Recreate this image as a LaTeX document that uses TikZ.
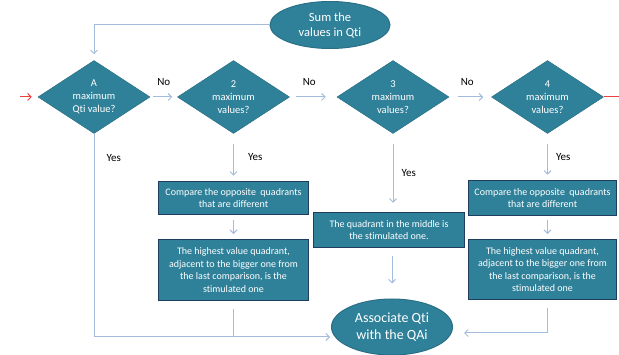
\documentclass[tikz,border=0pt]{standalone}
\usepackage{fontspec}
\setmainfont{Carlito}[Ligatures=NoCommon]
\usetikzlibrary{arrows.meta, positioning, shapes.geometric}
\definecolor{boxfill}{HTML}{2F8199}
\definecolor{boxedge}{HTML}{1F3D5C}
\definecolor{ovaledge}{HTML}{2B6F86}
\definecolor{flowline}{HTML}{A3BCDC}
\definecolor{startred}{HTML}{E8413E}

\begin{document}
\begin{tikzpicture}[
        x=1pt, y=-1pt,
        decision/.style={diamond, fill=boxfill, draw=boxfill!85!black, line width=0.5pt,
                    aspect=1.55, inner sep=0pt, minimum width=112pt, minimum height=73pt,
                    align=center, text=white, font=\fontsize{10.5}{13}\selectfont},
        terminal/.style={ellipse, fill=boxfill, draw=ovaledge, line width=1pt, inner sep=0pt,
                    align=center, text=white},
        box/.style={rectangle, fill=boxfill, draw=boxedge, line width=1.3pt, inner sep=2pt,
                    minimum width=150pt, align=center, text=white,
                    font=\fontsize{10}{12.5}\selectfont},
        lbl/.style={inner sep=0pt, text=black, font=\fontsize{11}{13}\selectfont},
        flow/.style={draw=flowline, line width=1pt},
        line/.style={flow, -{Straight Barb[length=3.5pt, width=7pt]}},
        redline/.style={draw=startred, line width=1pt}
    ]
    \useasboundingbox (0,0) rectangle (619,355);
    % top oval and the row of decisions
    \node [terminal, minimum width=120pt, minimum height=47pt,
           font=\fontsize{12.5}{15}\selectfont] (sum) at (330,25) {Sum the\\values in Qti};
    \node [decision] (d1) at (94,97) {A\\maximum\\Qti value?};
    \node [decision, right=27pt of d1] (d2) {2\\maximum\\values?};
    \node [decision, right=47pt of d2] (d3) {3\\maximum\\values?};
    \node [decision, right=42pt of d3] (d4) {4\\maximum\\values?};
    % process boxes
    \node [box, minimum height=33pt, below=47pt of d2] (a1) {Compare the opposite\ \ quadrants\\that are different};
    \node [box, minimum height=61pt, below=24pt of a1] (a2) {The highest value quadrant,\\adjacent to the bigger one from\\the last comparison, is the\\stimulated one};
    \node [box, minimum width=151pt, minimum height=35pt, below=78pt of d3, xshift=-4pt] (b) {The quadrant in the middle is\\the stimulated one.};
    \node [box, minimum width=148pt, minimum height=35pt, below=46pt of d4, xshift=-5pt] (c1) {Compare the opposite\ \ quadrants\\that are different};
    \node [box, minimum width=148pt, minimum height=60pt, below=23pt of c1] (c2) {The highest value quadrant,\\adjacent to the bigger one from\\the last comparison, is the\\stimulated one};
    \node [terminal, minimum width=121pt, minimum height=56pt,
           font=\fontsize{14}{17}\selectfont] (assoc) at (392,327) {Associate Qti\\with the QAi};
    \coordinate (start) at (20,97);
    \coordinate (exit) at (619,97);
    \coordinate (joinL) at ([yshift=-10pt]assoc.west);
    \coordinate (joinR) at ([yshift=-6pt]assoc.east);
    % connectors
    \draw[line, shorten >=6pt] (sum.west) -| (d1.north);
    \draw[redline, -{Straight Barb[length=3.5pt, width=7pt]}, shorten >=6pt] (start) -- (d1.west);
    \draw[redline] (d4.east) -- (exit);
    \draw[line, shorten <=3pt, shorten >=5pt] (d1.east) -- node[lbl, above=11pt] {No} (d2.west);
    \draw[line, shorten <=6pt, shorten >=11pt] (d2.east) -- node[lbl, above=11pt, xshift=-4pt] {No} (d3.west);
    \draw[line, shorten <=9pt, shorten >=8pt] (d3.east) -- node[lbl, above=11pt, xshift=-3pt] {No} (d4.west);
    \draw[line, shorten >=1pt] (d1.south) |- node[lbl, pos=0.06, right=12pt] {Yes} (joinL);
    \draw[line, shorten <=10pt, shorten >=5pt] (d2.south) -- node[lbl, right=14pt] {Yes} (a1.north);
    \draw[line, shorten <=5pt, shorten >=5pt] (a1.south) -- (a2.north);
    \draw[flow, shorten <=8pt] (a2.south) -- (a2.south |- joinL);
    \draw[line, shorten <=10pt, shorten >=9pt] (d3.south) -- node[lbl, right=8pt] {Yes} (d3.south |- b.north);
    \draw[line, shorten <=8pt, shorten >=15pt] (b.south -| assoc.north) -- (assoc.north);
    \draw[line, shorten <=10pt, shorten >=5pt] (d4.south) -- node[lbl, right=8pt] {Yes} (d4.south |- c1.north);
    \draw[line, shorten <=4pt, shorten >=5pt] (c1.south -| d4.south) -- (c2.north -| d4.south);
    \draw[line, shorten <=8pt, shorten >=11pt] (c2.south -| d4.south) |- (joinR);
\end{tikzpicture}
\end{document}
